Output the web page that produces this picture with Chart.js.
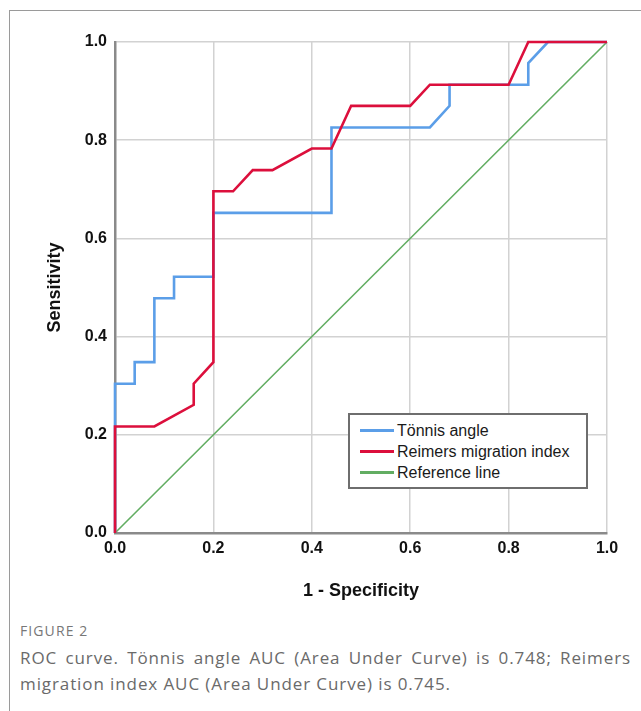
<!DOCTYPE html>
<html>
<head>
<meta charset="utf-8">
<script src="https://cdn.jsdelivr.net/npm/chart.js@4/dist/chart.umd.min.js"></script>
<style>
  html, body { margin: 0; padding: 0; background: #fff; }
  #wrap { position: relative; width: 641px; height: 711px; overflow: hidden; background: #fff; }
  #frame { position: absolute; left: 9px; top: 10px; width: 700px; height: 720px; border-left: 1px solid #9a9a9a; border-top: 1px solid #9a9a9a; }
  #chartBox { position: absolute; left: 0; top: 0; width: 641px; height: 610px; }
  #legend { position: absolute; left: 348px; top: 413px; width: 236px; height: 72px; border: 2px solid #6e6e6e; background: #fff; box-sizing: content-box; }
  .item { position: absolute; left: 0; height: 21px; font-family: "Liberation Sans", Arial, sans-serif; font-size: 16px; color: #1a1a1a; white-space: nowrap; }
  .item .sw { position: absolute; left: 10px; width: 34px; height: 3px; }
  .item .tx { position: absolute; left: 47px; top: 0; line-height: 21px; }
  #fig { position: absolute; left: 20px; top: 621px; font-family: "Open Sans", "Noto Sans", sans-serif; font-size: 14px; letter-spacing: 1.1px; color: #777; }
  #cap { position: absolute; left: 20px; top: 645px; width: 611px; font-family: "Open Sans", "Noto Sans", sans-serif; font-size: 17px; letter-spacing: 0.9px; line-height: 26px; color: #6a6a6a; }
  #cap .l1 { display: block; text-align: justify; text-align-last: justify; white-space: nowrap; }
  #cap .l2 { display: block; white-space: nowrap; }
</style>
</head>
<body>
<div id="wrap">
  <div id="frame"></div>
  <div id="chartBox"><canvas id="c" width="641" height="610"></canvas></div>
  <div id="legend"></div>
  <div id="fig">FIGURE 2</div>
  <div id="cap"><span class="l1">ROC curve. Tönnis angle AUC (Area Under Curve) is 0.748; Reimers</span><span class="l2">migration index AUC (Area Under Curve) is 0.745.</span></div>
</div>
<script>
// ---- data ----
const seriesNames = ["Tönnis angle", "Reimers migration index", "Reference line"];
const tonnisX = [0, 0, 0.04, 0.04, 0.08, 0.08, 0.12, 0.12, 0.20, 0.20, 0.44, 0.44, 0.64, 0.68, 0.68, 0.84, 0.84, 0.88, 1.00];
const tonnisY = [0, 0.304, 0.304, 0.348, 0.348, 0.478, 0.478, 0.522, 0.522, 0.652, 0.652, 0.826, 0.826, 0.870, 0.913, 0.913, 0.957, 1.000, 1.000];
const reimersX = [0, 0, 0.08, 0.16, 0.16, 0.20, 0.20, 0.24, 0.28, 0.32, 0.40, 0.44, 0.48, 0.60, 0.64, 0.80, 0.84, 1.00];
const reimersY = [0, 0.217, 0.217, 0.261, 0.304, 0.348, 0.696, 0.696, 0.739, 0.739, 0.783, 0.783, 0.870, 0.870, 0.913, 0.913, 1.000, 1.000];
const refX = [0, 1];
const refY = [0, 1];
const tickValues = [0, 0.2, 0.4, 0.6, 0.8, 1.0];
const xTitle = "1 - Specificity";
const yTitle = "Sensitivity";
const colors = ["#5b9ee8", "#dc0f3c", "#62ad62"];

function pts(xs, ys) { return xs.map((x, i) => ({ x: x, y: ys[i] })); }

const tickFont = { family: "'Liberation Sans Narrow', 'Liberation Sans', Arial, sans-serif", size: 16, weight: 'bold' };
const titleFont = { family: "'Liberation Sans', Arial, sans-serif", size: 18, weight: 'bold' };

const chart = new Chart(document.getElementById('c'), {
  type: 'scatter',
  data: {
    datasets: [
      { label: seriesNames[2], data: pts(refX, refY), borderColor: colors[2], borderWidth: 1.6, showLine: true, pointRadius: 0, tension: 0, clip: false, order: 3 },
      { label: seriesNames[0], data: pts(tonnisX, tonnisY), borderColor: colors[0], borderWidth: 2.6, showLine: true, pointRadius: 0, tension: 0, clip: false, order: 2 },
      { label: seriesNames[1], data: pts(reimersX, reimersY), borderColor: colors[1], borderWidth: 2.6, showLine: true, pointRadius: 0, tension: 0, clip: false, order: 1 }
    ]
  },
  options: {
    responsive: false,
    animation: false,
    events: [],
    layout: { padding: { left: 0, top: 42, right: 34, bottom: 0 } },
    plugins: { legend: { display: false }, tooltip: { enabled: false } },
    scales: {
      x: {
        type: 'linear', min: 0, max: 1,
        afterBuildTicks: (s) => { s.ticks = tickValues.map(v => ({ value: v })); },
        afterFit: (s) => { s.height = 77; },
        grid: { color: '#d2d2d2', lineWidth: 1.5, drawTicks: false },
        border: { color: '#8a8a8a', width: 2.5 },
        ticks: { font: tickFont, color: '#111', padding: 6, maxRotation: 0, callback: v => v.toFixed(1) },
        title: { display: true, text: xTitle, font: titleFont, color: '#111', padding: { bottom: 8, top: 0 } }
      },
      y: {
        type: 'linear', min: 0, max: 1,
        afterBuildTicks: (s) => { s.ticks = tickValues.map(v => ({ value: v })); },
        afterFit: (s) => { s.width = 115; },
        grid: { color: '#d2d2d2', lineWidth: 1.5, drawTicks: false },
        border: { color: '#8a8a8a', width: 2.5 },
        ticks: { font: tickFont, color: '#111', padding: 8, callback: v => v.toFixed(1) },
        title: { display: true, text: yTitle, font: titleFont, color: '#111', padding: { top: 44, bottom: 0 } }
      }
    }
  }
});

// HTML legend built from the chart's datasets (order: Tönnis, Reimers, Reference)
const legend = document.getElementById('legend');
const legendOrder = [1, 2, 0];
legendOrder.forEach((di, row) => {
  const ds = chart.data.datasets[di];
  const item = document.createElement('div');
  item.className = 'item';
  item.style.top = (5 + row * 21) + 'px';
  const sw = document.createElement('div');
  sw.className = 'sw';
  sw.style.background = ds.borderColor;
  sw.style.top = '9px';
  const tx = document.createElement('div');
  tx.className = 'tx';
  tx.textContent = ds.label;
  item.appendChild(sw); item.appendChild(tx);
  legend.appendChild(item);
});
</script>
</body>
</html>
